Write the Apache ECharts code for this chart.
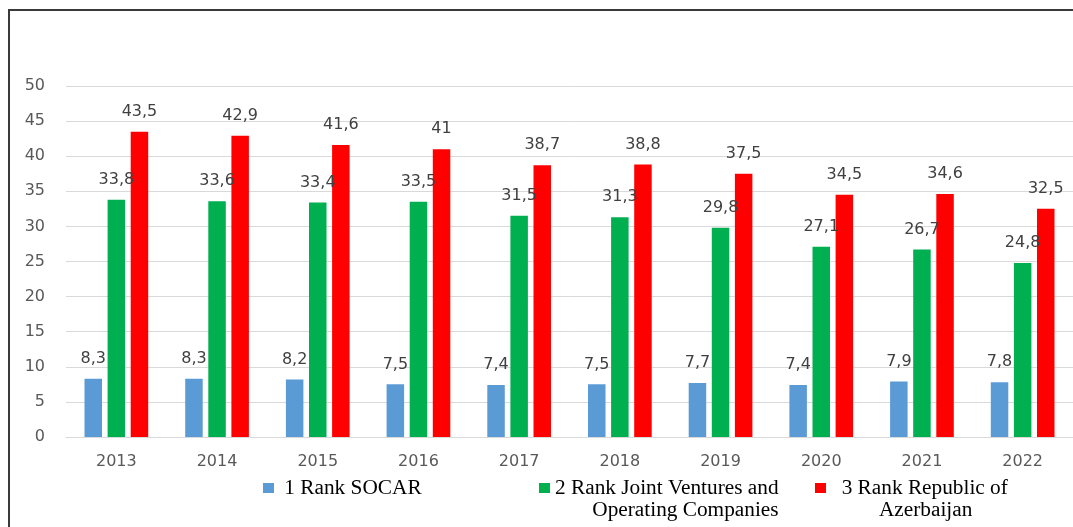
<!DOCTYPE html>
<html><head><meta charset="utf-8">
<script src="https://cdn.jsdelivr.net/npm/echarts@6/dist/echarts.min.js"></script>
<style>
html,body{margin:0;padding:0;width:1073px;height:527px;overflow:hidden;background:#fff;}
#frame{position:absolute;left:8px;top:9px;width:2000px;height:2000px;border:2px solid #3a3a3a;box-sizing:border-box;}
#chart{position:absolute;left:0;top:0;width:1073px;height:527px;}
</style></head><body>
<div id="frame"></div><div id="chart"></div>
<script>
const years = ['2013','2014','2015','2016','2017','2018','2019','2020','2021','2022'];
const socar = [8.3, 8.3, 8.2, 7.5, 7.4, 7.5, 7.7, 7.4, 7.9, 7.8];
const jointVentures = [33.8, 33.6, 33.4, 33.5, 31.5, 31.3, 29.8, 27.1, 26.7, 24.8];
const republic = [43.5, 42.9, 41.6, 41, 38.7, 38.8, 37.5, 34.5, 34.6, 32.5];
const seriesNames = ['1 Rank SOCAR', '2 Rank Joint Ventures and Operating Companies', '3 Rank Republic of Azerbaijan'];
const legendLines = {
  '1 Rank SOCAR': ' 1 Rank SOCAR',
  '2 Rank Joint Ventures and Operating Companies': '\n2 Rank Joint Ventures and\n       Operating Companies',
  '3 Rank Republic of Azerbaijan': '\n  3 Rank Republic of\n         Azerbaijan'
};
const colors = ['#5b9bd5', '#00b050', '#ff0000'];
const yMin = 0, yMax = 50, yStep = 5;

const chart = echarts.init(document.getElementById('chart'), null, {renderer: 'canvas'});
const labelCfg = {
  show: true, position: 'top', distance: 12,
  fontFamily: 'DejaVu Sans', fontSize: 16, color: '#404040',
  formatter: p => String(p.value).replace('.', ',')
};
const mkLegend = (i, left, top) => ({
  data: [seriesNames[i]], left: left, top: top, orient: 'horizontal',
  icon: 'rect', itemWidth: 11, itemHeight: 10, padding: 0,
  selectedMode: false,
  formatter: n => legendLines[n],
  textStyle: {fontFamily: 'Liberation Serif', fontSize: 21.3, color: '#000', lineHeight: 22}
});
const option = {
  animation: false,
  color: colors,
  grid: {left: 66, right: -13, top: 86, bottom: 90, containLabel: false},
  legend: [
    mkLegend(0, 263, 477),
    mkLegend(1, 539, 455),
    mkLegend(2, 815, 455)
  ],
  xAxis: {
    type: 'category', data: years,
    axisLine: {lineStyle: {color: '#d9d9d9', width: 1}},
    axisTick: {show: false},
    axisLabel: {margin: 17, fontFamily: 'DejaVu Sans', fontSize: 16, color: '#595959'}
  },
  yAxis: {
    type: 'value', min: yMin, max: yMax, interval: yStep,
    axisLine: {show: false}, axisTick: {show: false},
    splitLine: {lineStyle: {color: '#d9d9d9', width: 1}},
    axisLabel: {margin: 21, fontFamily: 'DejaVu Sans', fontSize: 16, color: '#595959'}
  },
  series: [
    {name: seriesNames[0], type: 'bar', data: socar, barWidth: 17.5, barGap: '32%', label: labelCfg, itemStyle: {color: colors[0]}},
    {name: seriesNames[1], type: 'bar', data: jointVentures, barWidth: 17.5, barGap: '32%', label: labelCfg, itemStyle: {color: colors[1]}},
    {name: seriesNames[2], type: 'bar', data: republic, barWidth: 17.5, barGap: '32%', label: labelCfg, itemStyle: {color: colors[2]}}
  ]
};
chart.setOption(option);
</script>
</body></html>
